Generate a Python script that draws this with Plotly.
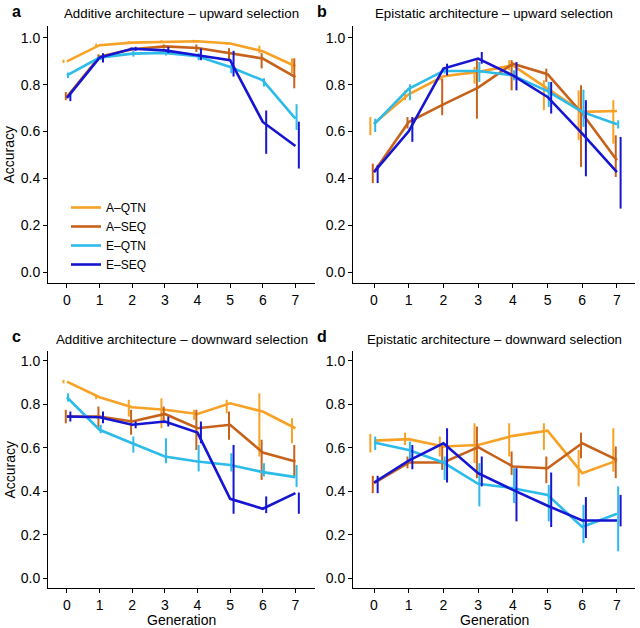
import plotly.graph_objects as go

generations = [0, 1, 2, 3, 4, 5, 6, 7]
series_names = ["A\u2013QTN", "A\u2013SEQ", "E\u2013QTN", "E\u2013SEQ"]
series_colors = ["#F7A226", "#C7621B", "#2DBBEA", "#1515D2"]
dodge = [-0.105, -0.035, 0.035, 0.105]

# ---- Panel a: Additive architecture - upward selection ----
a_mean = [
    [0.900, 0.969, 0.980, 0.984, 0.986, 0.976, 0.943, 0.879],
    [0.748, 0.920, 0.952, 0.964, 0.957, 0.936, 0.912, 0.833],
    [0.840, 0.916, 0.933, 0.936, 0.922, 0.876, 0.819, 0.655],
    [0.744, 0.916, 0.954, 0.947, 0.926, 0.905, 0.641, 0.538],
]
a_lo = [
    [0.893, 0.962, 0.974, 0.978, 0.980, 0.970, 0.935, 0.849],
    [0.734, 0.910, 0.945, 0.955, 0.940, 0.906, 0.870, 0.785],
    [0.828, 0.905, 0.920, 0.925, 0.905, 0.849, 0.792, 0.607],
    [0.730, 0.895, 0.945, 0.935, 0.905, 0.835, 0.505, 0.442],
]
a_hi = [
    [0.907, 0.976, 0.986, 0.990, 0.992, 0.982, 0.967, 0.913],
    [0.769, 0.930, 0.960, 0.972, 0.972, 0.956, 0.935, 0.913],
    [0.852, 0.925, 0.945, 0.947, 0.935, 0.885, 0.828, 0.717],
    [0.765, 0.935, 0.962, 0.962, 0.955, 0.945, 0.690, 0.642],
]

# ---- Panel b: Epistatic architecture - upward selection ----
b_mean = [
    [0.634, 0.759, 0.836, 0.855, 0.883, 0.783, 0.684, 0.688],
    [0.427, 0.641, 0.716, 0.788, 0.890, 0.845, 0.677, 0.477],
    [0.631, 0.783, 0.859, 0.859, 0.840, 0.773, 0.684, 0.631],
    [0.427, 0.601, 0.869, 0.912, 0.840, 0.748, 0.591, 0.427],
]
b_lo = [
    [0.584, 0.734, 0.819, 0.805, 0.862, 0.691, 0.563, 0.548],
    [0.380, 0.613, 0.670, 0.655, 0.776, 0.812, 0.449, 0.406],
    [0.598, 0.734, 0.848, 0.812, 0.819, 0.705, 0.620, 0.613],
    [0.380, 0.556, 0.840, 0.890, 0.776, 0.677, 0.409, 0.271],
]
b_hi = [
    [0.662, 0.776, 0.848, 0.876, 0.905, 0.819, 0.776, 0.734],
    [0.463, 0.662, 0.826, 0.905, 0.905, 0.869, 0.798, 0.584],
    [0.655, 0.802, 0.869, 0.897, 0.862, 0.812, 0.779, 0.648],
    [0.456, 0.662, 0.890, 0.940, 0.897, 0.812, 0.734, 0.577],
]

# ---- Panel c: Additive architecture - downward selection ----
c_mean = [
    [0.905, 0.833, 0.787, 0.775, 0.756, 0.805, 0.767, 0.690],
    [0.744, 0.744, 0.721, 0.756, 0.690, 0.706, 0.578, 0.537],
    [0.833, 0.683, 0.621, 0.560, 0.537, 0.521, 0.488, 0.465],
    [0.744, 0.741, 0.706, 0.721, 0.670, 0.365, 0.319, 0.391],
]
c_lo = [
    [0.897, 0.824, 0.744, 0.690, 0.729, 0.759, 0.560, 0.621],
    [0.713, 0.690, 0.660, 0.713, 0.590, 0.637, 0.452, 0.468],
    [0.813, 0.667, 0.578, 0.529, 0.491, 0.491, 0.468, 0.419],
    [0.721, 0.713, 0.690, 0.698, 0.621, 0.296, 0.299, 0.296],
]
c_hi = [
    [0.913, 0.844, 0.821, 0.828, 0.775, 0.821, 0.851, 0.736],
    [0.775, 0.790, 0.775, 0.790, 0.775, 0.767, 0.637, 0.613],
    [0.851, 0.706, 0.652, 0.644, 0.613, 0.575, 0.529, 0.521],
    [0.767, 0.767, 0.721, 0.744, 0.721, 0.613, 0.376, 0.394],
]

# ---- Panel d: Epistatic architecture - downward selection ----
d_mean = [
    [0.633, 0.640, 0.606, 0.613, 0.655, 0.679, 0.483, 0.541],
    [0.437, 0.532, 0.532, 0.603, 0.514, 0.506, 0.621, 0.544],
    [0.624, 0.590, 0.532, 0.434, 0.414, 0.383, 0.235, 0.296],
    [0.440, 0.541, 0.621, 0.483, 0.406, 0.333, 0.265, 0.265],
]
d_lo = [
    [0.578, 0.613, 0.560, 0.529, 0.560, 0.590, 0.422, 0.490],
    [0.391, 0.506, 0.498, 0.460, 0.475, 0.437, 0.552, 0.460],
    [0.590, 0.537, 0.452, 0.330, 0.345, 0.261, 0.161, 0.123],
    [0.391, 0.501, 0.440, 0.422, 0.261, 0.235, 0.184, 0.238],
]
d_hi = [
    [0.664, 0.670, 0.652, 0.713, 0.713, 0.713, 0.590, 0.690],
    [0.471, 0.560, 0.606, 0.698, 0.583, 0.560, 0.670, 0.606],
    [0.652, 0.629, 0.560, 0.529, 0.506, 0.429, 0.337, 0.422],
    [0.471, 0.613, 0.690, 0.560, 0.506, 0.486, 0.373, 0.383],
]

panel_titles = [
    "Additive architecture \u2013 upward selection",
    "Epistatic architecture \u2013 upward selection",
    "Additive architecture \u2013 downward selection",
    "Epistatic architecture \u2013 downward selection",
]
panel_letters = ["a", "b", "c", "d"]
y_ticks = [0.0, 0.2, 0.4, 0.6, 0.8, 1.0]

panels = [
    (a_mean, a_lo, a_hi),
    (b_mean, b_lo, b_hi),
    (c_mean, c_lo, c_hi),
    (d_mean, d_lo, d_hi),
]

W, H = 640, 628
FONT = "Liberation Sans, Arial, Helvetica, sans-serif"

# pixel layout of panels: (left, right, top, bottom)
px_boxes = [
    (48, 315, 26, 283),
    (353, 635, 26, 283),
    (48, 315, 351, 588),
    (353, 635, 351, 588),
]
x_ranges = [[-0.58, 7.6], [-0.605, 7.52], [-0.58, 7.6], [-0.605, 7.52]]
y_ranges = [[-0.047, 1.051], [-0.047, 1.051], [-0.046, 1.046], [-0.046, 1.046]]

fig = go.Figure()

for p, (means, los, his) in enumerate(panels):
    xa = "x" if p == 0 else f"x{p+1}"
    ya = "y" if p == 0 else f"y{p+1}"
    for s in range(4):
        m = means[s]
        fig.add_trace(go.Scatter(
            x=[g + dodge[s] for g in generations],
            y=m,
            mode="markers",
            marker=dict(size=1, opacity=0, color=series_colors[s]),
            error_y=dict(type="data", symmetric=False,
                         array=[h - v for h, v in zip(his[s], m)],
                         arrayminus=[v - l for v, l in zip(m, los[s])],
                         width=0, thickness=2, color=series_colors[s]),
            showlegend=False, hoverinfo="skip",
            xaxis=xa, yaxis=ya,
        ))
        fig.add_trace(go.Scatter(
            x=generations, y=m, mode="lines",
            line=dict(color=series_colors[s], width=2.6),
            name=series_names[s],
            showlegend=(p == 0), legendgroup=series_names[s],
            xaxis=xa, yaxis=ya,
        ))

layout = dict(
    width=W, height=H,
    margin=dict(l=0, r=0, t=0, b=0),
    paper_bgcolor="white", plot_bgcolor="white",
    font=dict(family=FONT, size=14, color="black"),
    showlegend=True,
    legend=dict(x=66 / W, y=1 - 193 / H, xanchor="left", yanchor="top",
                bgcolor="rgba(0,0,0,0)", font=dict(size=12, family=FONT),
                itemwidth=30, tracegroupgap=0),
)

annotations = []
for p in range(4):
    l, r, t, b = px_boxes[p]
    xk = "xaxis" if p == 0 else f"xaxis{p+1}"
    yk = "yaxis" if p == 0 else f"yaxis{p+1}"
    ya_ref = "y" if p == 0 else f"y{p+1}"
    xa_ref = "x" if p == 0 else f"x{p+1}"
    layout[xk] = dict(
        domain=[l / W, r / W], range=x_ranges[p], anchor=ya_ref,
        tickvals=generations, ticktext=[str(g) for g in generations],
        showline=True, linecolor="black", linewidth=1,
        ticks="outside", ticklen=4, tickcolor="black", tickwidth=1,
        showgrid=False, zeroline=False,
        tickfont=dict(size=14, color="black", family=FONT),
    )
    layout[yk] = dict(
        domain=[1 - b / H, 1 - t / H], range=y_ranges[p], anchor=xa_ref,
        tickvals=y_ticks, tickformat=".1f",
        showline=True, linecolor="black", linewidth=1,
        ticks="outside", ticklen=4, tickcolor="black", tickwidth=1,
        showgrid=False, zeroline=False,
        tickfont=dict(size=14, color="black", family=FONT),
    )
    annotations.append(dict(
        text=panel_titles[p], xref="paper", yref="paper",
        x=(l + r) / 2 / W, y=1 - (t - 12) / H, xanchor="center", yanchor="middle",
        showarrow=False, font=dict(size=13.3, family=FONT, color="black"),
    ))
    annotations.append(dict(
        text="<b>" + panel_letters[p] + "</b>", xref="paper", yref="paper",
        x=(l - 38) / W, y=1 - (t - 15) / H, xanchor="left", yanchor="middle",
        showarrow=False, font=dict(size=16, family=FONT, color="black"),
    ))
    if p >= 2:
        annotations.append(dict(
            text="Generation", xref="paper", yref="paper",
            x=(l + r) / 2 / W, y=1 - 620 / H, xanchor="center", yanchor="middle",
            showarrow=False, font=dict(size=14, family=FONT, color="black"),
        ))
    if p in (0, 2):
        annotations.append(dict(
            text="Accuracy", xref="paper", yref="paper", textangle=-90,
            x=9 / W, y=1 - (t + b) / 2 / H, xanchor="center", yanchor="middle",
            showarrow=False, font=dict(size=14, family=FONT, color="black"),
        ))

layout["annotations"] = annotations
fig.update_layout(**layout)
fig.write_html("out.html", config={"displayModeBar": False},
               post_script="document.body.style.margin='0px';")
